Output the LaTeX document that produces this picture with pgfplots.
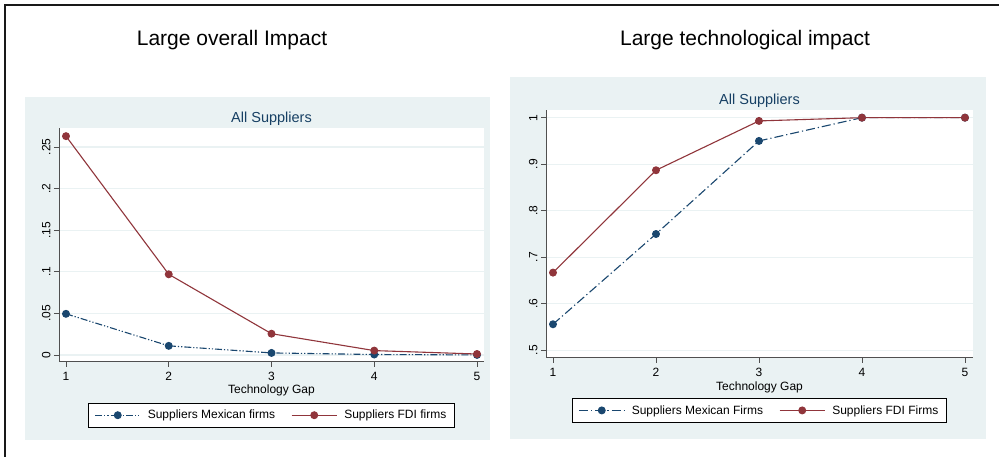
\documentclass[border=0pt]{standalone}
\usepackage{pgfplots}
\pgfplotsset{compat=1.18}
\usepackage{fontspec}
\setmainfont{Liberation Sans}
\definecolor{navy}{RGB}{26,71,111}
\definecolor{maroon}{RGB}{144,53,59}
\definecolor{bgc}{RGB}{234,242,243}
\definecolor{gridc}{RGB}{234,242,243}
\definecolor{axisgray}{RGB}{80,80,80}
\pgfplotsset{
  statastyle/.style={
    scale only axis,
    anchor=south west,
    axis lines*=left,
    axis line style={draw=axisgray, line width=1pt},
    axis background/.style={fill=white},
    xtick={1,2,3,4,5},
    tick align=outside,
    major tick length=5pt,
    tick style={draw=axisgray, line width=0.9pt},
    /pgf/number format/assume math mode=true,
    tick label style={font=\fontsize{12}{14}\selectfont},
    yticklabel style={rotate=90, anchor=south, xshift=0pt},
    xticklabel style={anchor=base, yshift=-14pt},
    ymajorgrids,
    grid style={draw=gridc, line width=1.2pt},
    title style={font=\fontsize{14.5}{17}\selectfont, color=navy!90!black, anchor=base},
    xlabel={Technology Gap},
    xlabel style={font=\fontsize{12}{14}\selectfont, anchor=base},
    legend columns=2,
    legend cell align=left,
    legend style={draw=black, line width=0.8pt, fill=white, anchor=north,
      font=\fontsize{12}{14}\selectfont, inner xsep=6pt, inner ysep=5pt,
      /tikz/every odd column/.append style={column sep=5pt},
      /tikz/every even column/.append style={column sep=14pt}},
    legend image code/.code={\draw[mark repeat=2,mark phase=2] plot coordinates {(0pt,0pt) (22.5pt,0pt) (45pt,0pt)};},
    clip=false,
  },
  mex/.style={color=navy, line width=1.1pt, mark=*, mark size=3.4pt, mark options={solid, fill=navy}},
  fdi/.style={color=maroon, line width=1.1pt, mark=*, mark size=3.4pt, mark options={solid, fill=maroon}},
}
\begin{document}
\begin{tikzpicture}[x=1pt,y=1pt]
\useasboundingbox (0,0) rectangle (999,457);
% outer frame
\draw[line width=2pt, black!90] (5,0) -- (5,451.5) -- (999,451.5);
% panel backgrounds
\fill[bgc] (25,17) rectangle (490,360);
\fill[bgc] (510,18) rectangle (986,380);
% titles
\node[font=\fontsize{21}{25}\selectfont, anchor=base] at (232,411) {Large overall Impact};
\node[font=\fontsize{21}{25}\selectfont, anchor=base] at (745,411) {Large technological impact};

\begin{axis}[statastyle,
  width=425pt, height=234pt, at={(59pt,95pt)},
  xmin=0.932, xmax=5.068, ymin=-0.0084, ymax=0.2728,
  ytick={0,0.05,0.1,0.15,0.2,0.25},
  yticklabels={0,.05,.1,.15,.2,.25},
  title={All Suppliers},
  title style={at={(0.5,1)}, yshift=-1pt},
  xlabel style={at={(0.5,0)}, yshift=-32pt},
  legend style={at={(0.5,-0.174)}},
]
\addplot[mex, dash pattern=on 7pt off 2pt on 1.2pt off 2pt on 1.2pt off 2pt] coordinates {(1,0.0495) (2,0.011) (3,0.0025) (4,0.0006) (5,0.0001)};
\addlegendentry{Suppliers Mexican firms}
\addplot[fdi] coordinates {(1,0.263) (2,0.097) (3,0.0256) (4,0.0053) (5,0.0012)};
\addlegendentry{Suppliers FDI firms}
\end{axis}

\begin{axis}[statastyle,
  width=427pt, height=248pt, at={(546pt,99pt)},
  xmin=0.932, xmax=5.078, ymin=0.4835, ymax=1.0165,
  ytick={0.5,0.6,0.7,0.8,0.9,1},
  yticklabels={.5,.6,.7,.8,.9,1},
  title={All Suppliers},
  title style={at={(0.5,1)}, yshift=-0.5pt},
  xlabel style={at={(0.5,0)}, yshift=-33pt},
  legend style={at={(0.5,-0.161)}},
]
\addplot[mex, dash pattern=on 9pt off 3pt on 1.2pt off 3pt] coordinates {(1,0.556) (2,0.75) (3,0.95) (4,1) (5,1)};
\addlegendentry{Suppliers Mexican Firms}
\addplot[fdi] coordinates {(1,0.667) (2,0.887) (3,0.993) (4,1) (5,1)};
\addlegendentry{Suppliers FDI Firms}
\end{axis}
\end{tikzpicture}
\end{document}
